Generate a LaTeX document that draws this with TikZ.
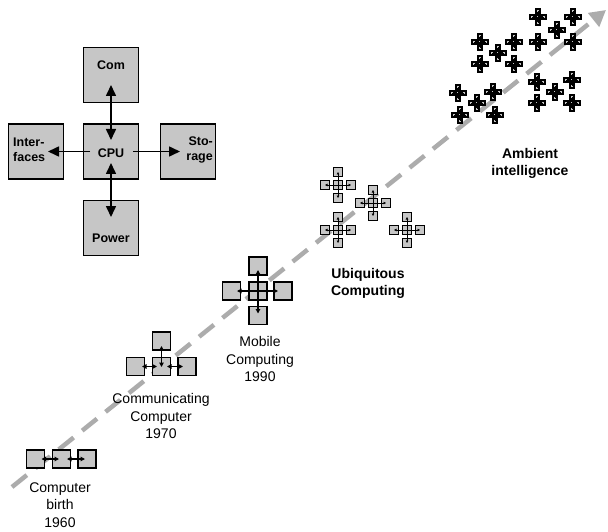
\documentclass[tikz,border=0pt]{standalone}
\usepackage{fontspec}
\setmainfont{Liberation Sans}
\usetikzlibrary{arrows.meta}
\definecolor{boxgray}{RGB}{198,198,198}
\definecolor{linegray}{RGB}{172,172,172}
\newcommand\xcross[6]{%
  \node[cbox, line width=#6pt, minimum size=#4pt] (#1c) at (#2,#3) {};
  \node[cbox, line width=#6pt, minimum size=#4pt] (#1t) at (#2,#3-#5) {};
  \node[cbox, line width=#6pt, minimum size=#4pt] (#1b) at (#2,#3+#5) {};
  \node[cbox, line width=#6pt, minimum size=#4pt] (#1l) at (#2-#5,#3) {};
  \node[cbox, line width=#6pt, minimum size=#4pt] (#1r) at (#2+#5,#3) {};
}
\newcommand\ucross[3]{%
  \xcross{#1}{#2}{#3}{8.5}{13}{1.3}
  \draw[tinyarrow] (#1t.center) -- (#1b.center);
  \draw[tinyarrow] (#1l.center) -- (#1r.center);
}
\newcommand\across[3]{%
  \xcross{#1}{#2}{#3}{4}{6}{1.5}
  \draw[line width=0.8pt] (#1t.center) -- (#1b.center);
  \draw[line width=0.8pt] (#1l.center) -- (#1r.center);
}
\begin{document}
\begin{tikzpicture}[x=1pt,y=-1pt,
  bigbox/.style={draw, fill=boxgray, line width=1.5pt, minimum width=55pt, minimum height=55pt, inner sep=0pt},
  sbox/.style={draw, fill=boxgray, line width=1.3pt, minimum size=18pt, inner sep=0pt},
  cbox/.style={draw, fill=boxgray, inner sep=0pt},
  bigarrow/.style={line width=1.6pt, {Triangle[length=11pt,width=10pt]}-{Triangle[length=11pt,width=10pt]}},
  bigarrowone/.style={line width=1.6pt, -{Triangle[length=11pt,width=10pt]}},
  smallarrow/.style={line width=1.1pt, {Triangle[length=4.5pt,width=4.5pt]}-{Triangle[length=4.5pt,width=4.5pt]}},
  tinyarrow/.style={line width=0.6pt, {Triangle[length=2.5pt,width=2.5pt]}-{Triangle[length=2.5pt,width=2.5pt]}},
  btxt/.style={font=\bfseries\fontsize{12.5}{15}\selectfont, inner sep=0pt},
  lab/.style={font=\fontsize{14}{17.5}\selectfont, align=center, inner sep=0pt},
  blab/.style={font=\bfseries\fontsize{14}{17}\selectfont, align=center, inner sep=0pt},
  timeline/.style={draw=linegray, line width=4.5pt, dash pattern=on 19pt off 11pt, -{Triangle[length=16pt,width=17pt,fill=linegray]}}
]
\useasboundingbox (0,0) rectangle (608,532);
\fill[white] (0,0) rectangle (608,532);
% timeline
\coordinate (tl0) at (12,487);
\coordinate (tl1) at (606,10);
\draw[timeline] (tl0) -- (tl1);

% top-left architecture
\node[bigbox] (com) at (111,75) {};
\node[bigbox] (cpu) at (111,151.5) {};
\node[bigbox] (int) at (36,151.5) {};
\node[bigbox] (sto) at (188,151.5) {};
\node[bigbox] (pow) at (111,228) {};
\node[btxt] (tcom) at (111,65) {Com};
\node[btxt] (tcpu) at (111,153) {CPU};
\node[btxt] (tpow) at (111,238) {Power};
\node[btxt, anchor=west, align=left] (tint) at (13,150) {Inter-\\faces};
\node[btxt, anchor=east, align=right] (tsto) at (213,150) {Sto-\\rage};
\draw[bigarrow] ([yshift=-10pt]com.center) -- ([yshift=11.5pt]cpu.center);
\draw[bigarrow] ([yshift=-11.5pt]cpu.center) -- ([yshift=11pt]pow.center);
\draw[bigarrowone] ([xshift=-21pt]cpu.center) -- ([xshift=12pt]int.center);
\draw[bigarrowone] ([xshift=22pt]cpu.center) -- ([xshift=-8pt]sto.center);

% computer birth
\node[sbox] (b1) at (35.5,459) {};
\node[sbox] (b2) at (61.5,459) {};
\node[sbox] (b3) at (87,459) {};
\draw[smallarrow] ([xshift=6pt]b1.center) -- ([xshift=-2.5pt]b2.center);
\draw[smallarrow] ([xshift=5.5pt]b2.center) -- ([xshift=-2pt]b3.center);
\node[lab] (lbirth) at (60,505) {Computer\\birth\\1960};

% communicating computer
\node[sbox] (c0) at (161.5,341) {};
\node[sbox] (c1) at (135.5,366.5) {};
\node[sbox] (c2) at (161.5,366.5) {};
\node[sbox] (c3) at (187,366.5) {};
\draw[smallarrow] ([yshift=-5pt]c0.center) -- ([yshift=-0.5pt]c2.center);
\draw[smallarrow] ([xshift=6.5pt]c1.center) -- ([xshift=-4.5pt]c2.center);
\draw[smallarrow] ([xshift=5.5pt]c2.center) -- ([xshift=-4pt]c3.center);
\node[lab] (lcomm) at (161,416) {Communicating\\Computer\\1970};

% mobile computing
\node[sbox] (m0) at (258,291) {};
\node[sbox] (mt) at (258,266) {};
\node[sbox] (mb) at (258,315.5) {};
\node[sbox] (ml) at (231.5,291) {};
\node[sbox] (mr) at (283,291) {};
\draw[smallarrow] ([yshift=-4pt]mt.center) -- ([yshift=2pt]mb.center);
\draw[smallarrow] ([xshift=5.5pt]ml.center) -- ([xshift=-5pt]mr.center);
\node[lab] (lmob) at (260,359) {Mobile\\Computing\\1990};

% ubiquitous computing
\ucross{ua}{338}{185}
\ucross{ub}{373}{203}
\ucross{uc}{338}{230}
\ucross{ud}{407}{230}
\node[blab] (lubi) at (368,283.5) {Ubiquitous\\Computing};

% ambient intelligence
\across{a1}{538}{17}
\across{a2}{573}{17}
\across{a3}{557}{30}
\across{a4}{538}{42}
\across{a5}{573}{42}
\across{b1x}{480}{42}
\across{b2x}{514}{42}
\across{b3x}{498}{53}
\across{b4x}{480}{64}
\across{b5x}{514}{64}
\across{c1x}{458}{93}
\across{c2x}{493}{92}
\across{c3x}{477}{103}
\across{c4x}{460}{115}
\across{c5x}{495}{115}
\across{d1x}{537}{82}
\across{d2x}{572}{80}
\across{d3x}{555}{92}
\across{d4x}{537}{103}
\across{d5x}{572}{103}
\node[blab] (lamb) at (530,163.5) {Ambient\\intelligence};
\end{tikzpicture}
\end{document}
